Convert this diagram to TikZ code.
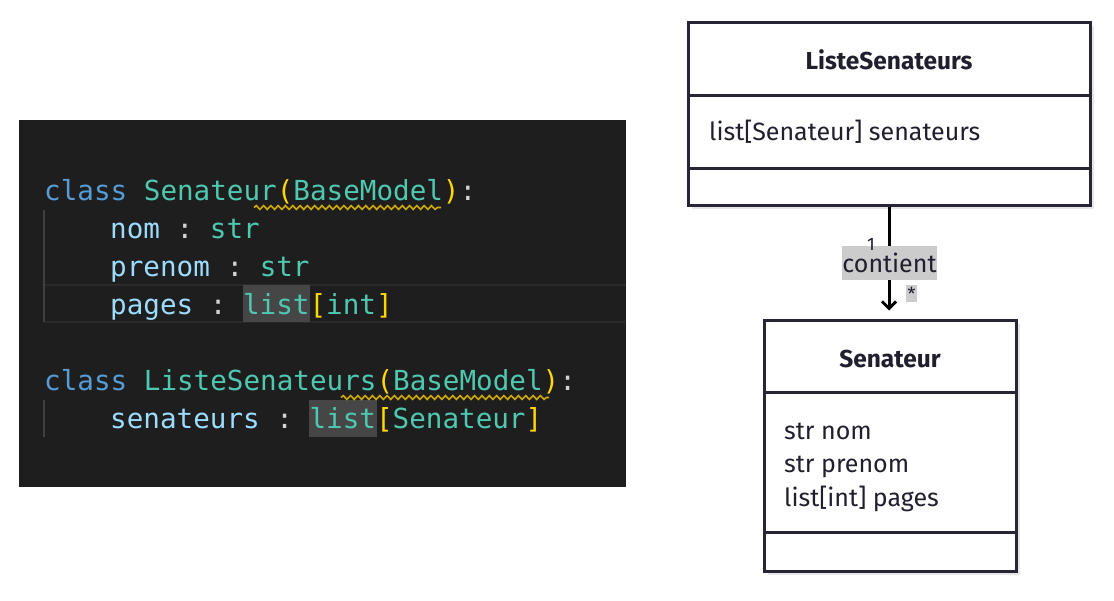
\documentclass[tikz,border=0pt]{standalone}
\usepackage{fontspec}
\setmainfont{Fira Sans}
\newfontfamily\codefont{DejaVu Sans Mono}
\usetikzlibrary{arrows.meta,decorations.pathmorphing}
\frenchspacing
\definecolor{codebg}{HTML}{1E1E1E}
\definecolor{kw}{HTML}{569CD6}
\definecolor{cls}{HTML}{4EC9B0}
\definecolor{var}{HTML}{9CDCFE}
\definecolor{punc}{HTML}{D4D4D4}
\definecolor{brk}{HTML}{FFD700}
\definecolor{hl}{HTML}{464646}
\definecolor{guide}{HTML}{404040}
\definecolor{curline}{HTML}{2A2A2A}
\definecolor{warn}{HTML}{D0AA00}
\definecolor{umlline}{HTML}{262637}
\definecolor{umltext}{HTML}{1F1F2E}
\definecolor{shadowc}{HTML}{E6E6E6}
\definecolor{lblbg}{HTML}{CCCCCC}
\tikzset{
  codeline/.style={anchor=base west,inner sep=0pt,font=\codefont\fontsize{27.6}{30}\selectfont},
  umlbox/.style={draw=umlline,line width=3pt,fill=white,inner sep=0pt},
  umlsep/.style={draw=umlline,line width=3pt},
  umlshadow/.style={fill=shadowc,draw=none},
  umltitle/.style={anchor=base,inner sep=0pt,text=umltext,font=\fontsize{24.5}{28}\selectfont\bfseries},
  umlattr/.style={anchor=base west,inner sep=0pt,text=umltext,font=\fontsize{25}{28}\selectfont},
  lbl/.style={fill=lblbg,text=umltext,inner sep=0pt},
  wavy/.style={draw=warn,line width=1.6pt,decorate,decoration={snake,amplitude=1.9pt,segment length=7.3pt}},
}
\begin{document}
\begin{tikzpicture}[x=1pt,y=-1pt]
\useasboundingbox (0,0) rectangle (1114,600);
% ---- code panel ----
\fill[codebg] (19,120) rectangle (626,487);
% current line borders
\draw[curline,line width=2pt] (44,285) -- (626,285);
\draw[curline,line width=2pt] (44,322) -- (626,322);
% indent guides
\draw[guide,line width=1.5pt] (44,210) -- (44,322);
\draw[guide,line width=1.5pt] (44,400) -- (44,437);
% highlights
\fill[hl] (243,285) rectangle (310,322);
\fill[hl] (309,400) rectangle (377,437);
% wavy underlines
\draw[wavy] (254,207.5) -- (441,207.5);
\draw[wavy] (341,397.5) -- (549,397.5);
\node[codeline] (c1) at (44,200) {\textcolor{kw}{class} \textcolor{cls}{Senateur}\textcolor{brk}{(}\textcolor{cls}{BaseModel}\textcolor{brk}{)}\textcolor{punc}{:}};
\node[codeline] (c2) at (110,238) {\textcolor{var}{nom} \textcolor{punc}{:} \textcolor{cls}{str}};
\node[codeline] (c3) at (110,276) {\textcolor{var}{prenom} \textcolor{punc}{:} \textcolor{cls}{str}};
\node[codeline] (c4) at (110,314) {\textcolor{var}{pages} \textcolor{punc}{:} \textcolor{cls}{list}\textcolor{brk}{[}\textcolor{cls}{int}\textcolor{brk}{]}};
\node[codeline] (c5) at (44,390) {\textcolor{kw}{class} \textcolor{cls}{ListeSenateurs}\textcolor{brk}{(}\textcolor{cls}{BaseModel}\textcolor{brk}{)}\textcolor{punc}{:}};
\node[codeline] (c6) at (110,428) {\textcolor{var}{senateurs} \textcolor{punc}{:} \textcolor{cls}{list}\textcolor{brk}{[}\textcolor{cls}{Senateur}\textcolor{brk}{]}};
% ---- UML ----
\fill[umlshadow] (692,26) rectangle (1094,209);
\node[umlbox,minimum width=402pt,minimum height=183pt] (ls) at (889,113.5) {};
\draw[umlsep] (688,95) -- (1090,95);
\draw[umlsep] (688,168) -- (1090,168);
\node[umltitle] (lst) at (889,69) {ListeSenateurs};
\node[umlattr] (lsa) at (709,140) {list[Senateur] senateurs};
\fill[umlshadow] (768,324) rectangle (1020,575);
\node[umlbox,minimum width=252pt,minimum height=251pt] (sen) at (890,445.5) {};
\draw[umlsep] (764,392) -- (1016,392);
\draw[umlsep] (764,532) -- (1016,532);
\node[umltitle] (sent) at (890,367) {Senateur};
\node[umlattr] (sa1) at (784,439) {str nom};
\node[umlattr] (sa2) at (784,472.5) {str prenom};
\node[umlattr] (sa3) at (784,506) {list[int] pages};
% connector
\draw[line width=3pt,-{Straight Barb[length=7pt,width=14pt]},shorten >=8pt] (ls.south -| 889,0) -- (sen.north -| 889,0);
\node[lbl,minimum width=95pt,minimum height=34pt,font=\fontsize{25}{28}\selectfont] (ct) at (889.5,263) {contient};
\node[anchor=base,inner sep=0pt,text=umltext,font=\fontsize{18}{20}\selectfont] (m1) at (871,250) {1};
\node[lbl,minimum width=11pt,minimum height=17pt,font=\fontsize{18}{20}\selectfont] (m2) at (911.5,293.5) {*};
\end{tikzpicture}
\end{document}
